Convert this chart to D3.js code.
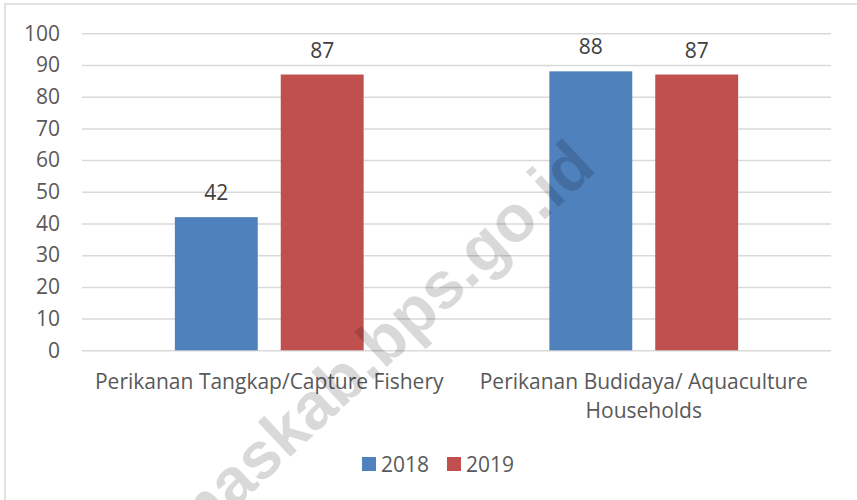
<!DOCTYPE html>
<html lang="en">
<head>
<meta charset="UTF-8">
<script src="https://cdnjs.cloudflare.com/ajax/libs/d3/7.8.4/d3.min.js"></script>
<title>Rumah Tangga Perikanan</title>
<style>
  body { margin: 0; background: #fff; }
  text { font-family: "Open Sans", sans-serif; }
</style>
</head>
<body>
<script>
// data
let categories = [["Perikanan Tangkap/Capture Fishery"], ["Perikanan Budidaya/ Aquaculture", "Households"]]
let seriesNames = ["2018", "2019"]
let values2018 = [42, 88]
let values2019 = [87, 87]
let yTicks = [0, 10, 20, 30, 40, 50, 60, 70, 80, 90, 100]

let colors = ["#4f81bd", "#c0504d"]
let seriesValues = [values2018, values2019]

const W = 857, H = 500
const fontSize = "21px"
let svg = d3.select("body").append("svg")
  .attr("width", W)
  .attr("height", H)

// chart frame
svg.append("rect")
  .attr("x", 5).attr("y", 4)
  .attr("width", W + 20).attr("height", H + 20)
  .attr("fill", "#fff")
  .attr("stroke", "#d9d9d9")
  .attr("stroke-width", 1.5)

let plot = { left: 82, right: 831, top: 33.3, bottom: 350.3 }

let yScale = d3.scaleLinear()
  .domain([0, 100])
  .range([plot.bottom, plot.top])

let catKeys = categories.map((c, i) => i)
let x0 = d3.scaleBand()
  .domain(catKeys)
  .range([plot.left, plot.right])

let x1 = d3.scaleBand()
  .domain(seriesNames)
  .range([0, x0.bandwidth()])
  .paddingInner(0.217)
  .paddingOuter(0.877)

// gridlines
let yAxis = svg.append("g")
  .attr("transform", `translate(${plot.left},0)`)
  .call(d3.axisLeft(yScale).tickValues(yTicks).tickSize(-(plot.right - plot.left)).tickPadding(22))
yAxis.select(".domain").remove()
yAxis.selectAll(".tick line")
  .attr("stroke", "#d9d9d9")
  .attr("stroke-width", 1.5)
yAxis.selectAll(".tick text")
  .attr("fill", "#595959")
  .style("font-size", fontSize)
  .style("font-family", "'Open Sans', sans-serif")

// bars
let groups = svg.selectAll("g.cat").data(catKeys)
  .enter().append("g")
  .attr("class", "cat")
  .attr("transform", d => `translate(${x0(d)},0)`)

groups.selectAll("rect")
  .data(ci => seriesNames.map((s, si) => ({ s: s, si: si, v: seriesValues[si][ci] })))
  .enter().append("rect")
  .attr("x", d => x1(d.s))
  .attr("y", d => yScale(d.v))
  .attr("width", x1.bandwidth())
  .attr("height", d => yScale(0) - yScale(d.v))
  .attr("fill", d => colors[d.si])

groups.selectAll("text.val")
  .data(ci => seriesNames.map((s, si) => ({ s: s, si: si, v: seriesValues[si][ci] })))
  .enter().append("text")
  .attr("class", "val")
  .attr("x", d => x1(d.s) + x1.bandwidth() / 2)
  .attr("y", d => yScale(d.v) - 17)
  .attr("text-anchor", "middle")
  .attr("fill", "#404040")
  .style("font-size", fontSize)
  .text(d => d.v)

// category labels
svg.selectAll("text.cat")
  .data(catKeys)
  .enter().append("text")
  .attr("class", "cat")
  .attr("text-anchor", "middle")
  .attr("fill", "#595959")
  .style("font-size", fontSize)
  .each(function(d) {
    let t = d3.select(this)
    categories[d].forEach((line, li) => {
      t.append("tspan")
        .attr("x", x0(d) + x0.bandwidth() / 2)
        .attr("y", 389 + li * 29)
        .text(line)
    })
  })

// legend
let legend = svg.append("g").attr("transform", "translate(362,457)")
let items = legend.selectAll("g").data(seriesNames)
  .enter().append("g")
  .attr("transform", (d, i) => `translate(${i * 85},0)`)
items.append("rect")
  .attr("width", 14).attr("height", 14)
  .attr("fill", (d, i) => colors[i])
items.append("text")
  .attr("x", 19).attr("y", 14.5)
  .attr("fill", "#595959")
  .style("font-size", fontSize)
  .text(d => d)

// watermark
svg.append("text")
  .attr("transform", "translate(598,170) rotate(-43)")
  .attr("text-anchor", "end")
  .attr("fill", "#000")
  .attr("fill-opacity", 0.15)
  .style("font-family", "'Liberation Sans', Arial, sans-serif")
  .style("font-weight", "bold")
  .style("font-size", "66px")
  .text("maskab.bps.go.id")
</script>
</body>
</html>
